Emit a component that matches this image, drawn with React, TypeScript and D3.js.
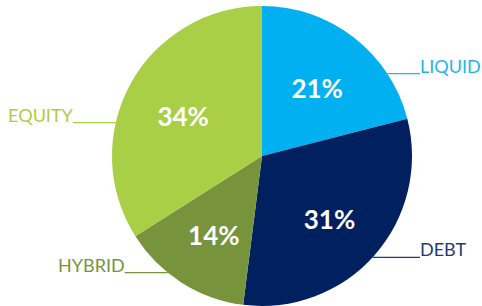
import React from 'react'
import * as d3 from 'd3'

// slice data, clockwise from 12 o'clock
const categories = ['LIQUID', 'DEBT', 'HYBRID', 'EQUITY']
const shares = [21, 31, 14, 34]
const sliceColors = ['#00b0f0', '#002060', '#77933c', '#a9cf46']
const labelColors = ['#25b4ea', '#1f3a78', '#77933c', '#a9cf46']
// where the callout line leaves the slice (fraction of the slice's arc)
const calloutAt = [0.75, 0.51, 0.63, 0.37]

export default function App() {
  const width = 482,
    height = 306
  const cx = 262,
    cy = 156,
    r = 150

  const pie = d3
    .pie<number>()
    .sort(null)
    .value(d => d)
  const arcs = pie(shares)

  const arc = d3
    .arc<d3.PieArcDatum<number>>()
    .innerRadius(0)
    .outerRadius(r)

  const labelArc = d3
    .arc<d3.PieArcDatum<number>>()
    .innerRadius(r * 0.6)
    .outerRadius(r * 0.6)

  const font = 'Lato, "Open Sans", sans-serif'

  return (
    <svg
      width={width}
      height={height}
      style={{ position: 'absolute', left: 0, top: 0, background: '#fff' }}
    >
      <g transform={`translate(${cx},${cy})`}>
        {arcs.map((a, i) => (
          <path key={i} d={arc(a) || ''} fill={sliceColors[i]} />
        ))}
        {arcs.map((a, i) => {
          const [x, y] = labelArc.centroid(a)
          return (
            <text
              key={i}
              x={x}
              y={y}
              textAnchor="middle"
              dy="0.5em"
              fill="#fff"
              fontFamily={font}
              fontWeight="bold"
              fontSize={26}
            >
              {shares[i]}%
            </text>
          )
        })}
        {arcs.map((a, i) => {
          // point on the rim where the callout starts
          const ang = a.startAngle + (a.endAngle - a.startAngle) * calloutAt[i]
          const px = r * Math.sin(ang)
          const py = -r * Math.cos(ang)
          const right = px > 0
          const x2 = right ? r + 8 : px - 43
          return (
            <g key={i}>
              <line
                x1={px}
                y1={py}
                x2={x2}
                y2={py}
                stroke={labelColors[i]}
                strokeWidth={1.2}
              />
              <text
                x={x2}
                y={py - 1}
                textAnchor={right ? 'start' : 'end'}
                fill={labelColors[i]}
                fontFamily={font}
                fontSize={18}
              >
                {categories[i]}
              </text>
            </g>
          )
        })}
      </g>
    </svg>
  )
}
